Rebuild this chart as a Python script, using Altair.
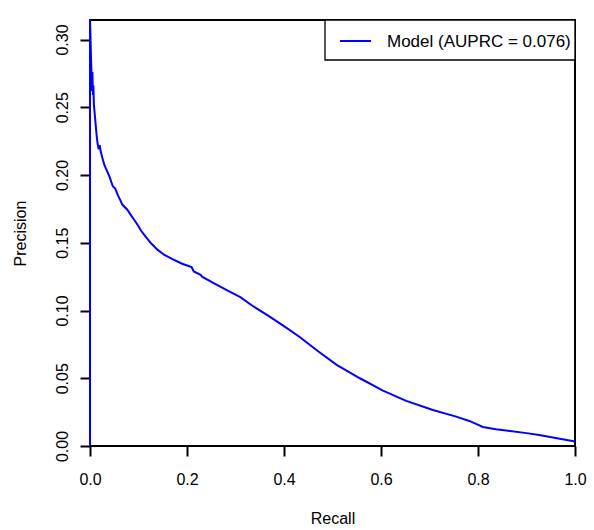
import altair as alt
import pandas as pd

# ---- data ----
recall = [0.0, 0.0, 0.002, 0.004, 0.005, 0.006, 0.007, 0.008, 0.010, 0.012,
          0.014, 0.016, 0.018, 0.020, 0.022, 0.026, 0.030, 0.035, 0.040, 0.047,
          0.052, 0.057, 0.067, 0.077, 0.085, 0.091, 0.098, 0.105, 0.1115, 0.1253,
          0.139, 0.1526, 0.170, 0.190, 0.2094, 0.214, 0.228, 0.231, 0.255, 0.283,
          0.310, 0.337, 0.372, 0.406, 0.433, 0.471, 0.5086, 0.5565, 0.604, 0.652,
          0.707, 0.755, 0.782, 0.796, 0.810, 0.837, 0.900, 0.926, 1.0]
precision = [0.0, 0.315, 0.288, 0.262, 0.276, 0.259, 0.266, 0.252, 0.244, 0.236,
             0.228, 0.2225, 0.219, 0.222, 0.2175, 0.212, 0.207, 0.203, 0.199, 0.1917,
             0.190, 0.1855, 0.178, 0.1744, 0.170, 0.167, 0.1633, 0.159, 0.156, 0.1498,
             0.1449, 0.1412, 0.138, 0.1345, 0.132, 0.1288, 0.1264, 0.125, 0.1202, 0.1148,
             0.1099, 0.103, 0.0951, 0.087, 0.0803, 0.0697, 0.0599, 0.050, 0.0409, 0.0333,
             0.0266, 0.0217, 0.0185, 0.0163, 0.014, 0.0123, 0.0095, 0.0081, 0.0033]
x_ticks = [0.0, 0.2, 0.4, 0.6, 0.8, 1.0]
y_ticks = [0.0, 0.05, 0.10, 0.15, 0.20, 0.25, 0.30]
x_domain = [0.0, 1.0]
y_domain = [0.0, 0.3144]
legend_label = "Model (AUPRC = 0.076)"
x_title = "Recall"
y_title = "Precision"
line_color = "#0000FF"

df = pd.DataFrame({"recall": recall, "precision": precision,
                   "idx": list(range(len(recall)))})
leg_df = pd.DataFrame({"label": [legend_label]})

FONT = "Liberation Sans"
W, H = 485, 426

line = alt.Chart(df).mark_line(color=line_color, strokeWidth=2, clip=False).encode(
    x=alt.X("recall:Q",
            scale=alt.Scale(domain=x_domain, nice=False, zero=False),
            axis=alt.Axis(values=x_ticks, format=".1f", title=x_title,
                          labelFlush=False, labelPadding=15, titleX=W / 2, titleY=77,
                          titleBaseline="alphabetic", titleAlign="center")),
    y=alt.Y("precision:Q",
            scale=alt.Scale(domain=y_domain, nice=False),
            axis=alt.Axis(values=y_ticks, format=".2f", title=y_title,
                          labelFlush=False, labelAngle=270, labelAlign="center",
                          labelBaseline="bottom", labelPadding=10,
                          titleX=-65, titleY=H / 2, titleAngle=270,
                          titleBaseline="alphabetic", titleAlign="center")),
    order="idx:Q",
)

box = alt.Chart(leg_df).mark_rect(fill="white", stroke="black", strokeWidth=1.3).encode(
    x=alt.value(235), x2=alt.value(485), y=alt.value(0), y2=alt.value(40))
sample = alt.Chart(leg_df).mark_rule(color=line_color, strokeWidth=2).encode(
    x=alt.value(250), x2=alt.value(281), y=alt.value(21))
txt = alt.Chart(leg_df).mark_text(align="left", baseline="alphabetic", fontSize=17,
                                  font=FONT, color="black").encode(
    x=alt.value(297), y=alt.value(27), text="label:N")

chart = alt.layer(line, box, sample, txt).properties(
    width=W, height=H,
    padding={"left": 90, "top": 20, "right": 19, "bottom": 84},
    autosize=alt.AutoSizeParams(type="none"),
).configure_view(
    stroke="black", strokeWidth=2
).configure_axis(
    grid=False, domain=False, tickSize=10, tickWidth=2, tickColor="black",
    labelColor="black", titleColor="black", labelFont=FONT, titleFont=FONT,
    labelFontSize=16, titleFontSize=16, titleFontWeight="normal"
)

chart.save("out.html", embed_options={"renderer": "svg", "actions": False})
